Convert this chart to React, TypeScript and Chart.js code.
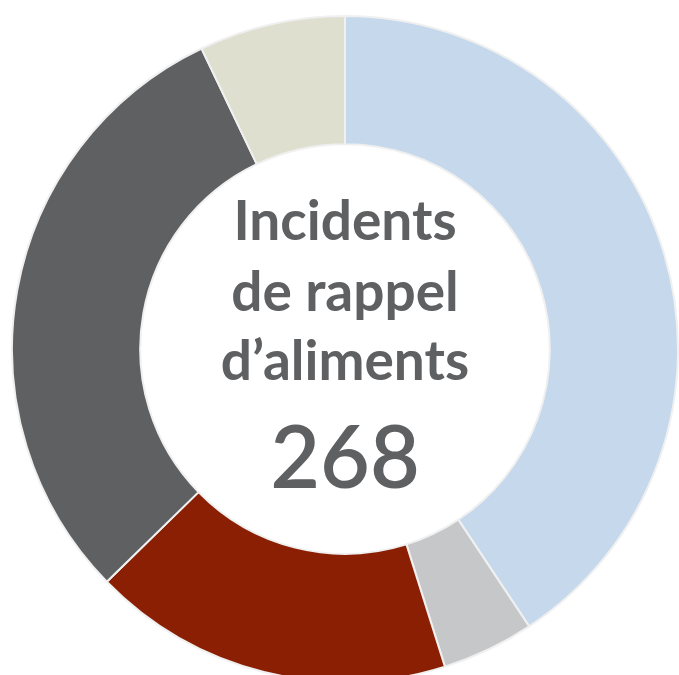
import React, { useEffect, useRef } from "react";
import { Chart, registerables } from "chart.js";

Chart.register(...registerables);

const categories = ["Catégorie A", "Catégorie B", "Catégorie C", "Catégorie D", "Catégorie E"];
const values = [109, 12, 47, 81, 19];
const colors = ["#c5d8ec", "#c6c7c9", "#8b1f04", "#5f6062", "#dedfcf"];
const centerLines = ["Incidents", "de rappel", "d’aliments"];
const totalLabel = "268";

const centerTextPlugin = {
  id: "centerText",
  afterDraw(chart: any) {
    const meta = chart.getDatasetMeta(0);
    if (!meta.data.length) return;
    const arc = meta.data[0];
    const cx = arc.x;
    const cy = arc.y;
    const ctx = chart.ctx;
    ctx.save();
    ctx.fillStyle = "#5f6062";
    ctx.textAlign = "center";
    ctx.textBaseline = "alphabetic";
    ctx.font = "700 55px Lato, 'Open Sans', sans-serif";
    const offsets = [-109, -38, 31];
    centerLines.forEach((line, i) => {
      ctx.fillText(line, cx, cy + offsets[i]);
    });
    ctx.font = "600 86px Lato, 'Open Sans', sans-serif";
    ctx.fillText(totalLabel, cx, cy + 139);
    ctx.restore();
  },
};

export default function App() {
  const ref = useRef<HTMLCanvasElement | null>(null);
  useEffect(() => {
    if (!ref.current) return;
    const chart = new Chart(ref.current, {
      type: "doughnut",
      data: {
        labels: categories,
        datasets: [
          {
            data: values,
            backgroundColor: colors,
            borderColor: "#f0f0f0",
            borderWidth: 2,
          },
        ],
      },
      options: {
        animation: false,
        responsive: true,
        maintainAspectRatio: false,
        cutout: "61.5%",
        layout: { padding: 0 },
        plugins: {
          legend: { display: false },
          tooltip: { enabled: false },
        },
      },
      plugins: [centerTextPlugin],
    });
    return () => chart.destroy();
  }, []);
  return (
    <div
      style={{
        position: "fixed",
        left: 0,
        top: 0,
        width: 679,
        height: 675,
        overflow: "hidden",
        background: "#ffffff",
      }}
    >
      <div style={{ position: "absolute", left: 11, top: 13, width: 668, height: 672 }}>
        <canvas ref={ref} />
      </div>
    </div>
  );
}
